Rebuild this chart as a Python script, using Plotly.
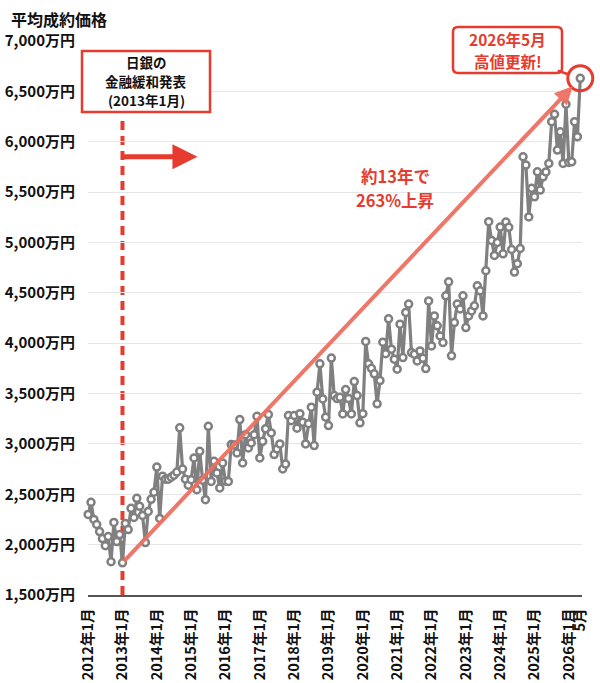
import plotly.graph_objects as go

# ---- data (monthly average contract price, 万円) ----
p2012 = [2300, 2420, 2250, 2200, 2130, 2060, 1990, 2080, 1830, 2220, 2030, 2100]
p2013 = [1820, 2210, 2150, 2360, 2270, 2460, 2380, 2290, 2020, 2330, 2450, 2520]
p2014 = [2770, 2260, 2680, 2650, 2650, 2670, 2690, 2720, 3160, 2750, 2650, 2590]
p2015 = [2645, 2860, 2545, 2926, 2640, 2446, 3175, 2628, 2827, 2712, 2563, 2811]
p2016 = [2630, 2628, 2993, 2990, 2910, 3242, 2811, 3092, 2960, 3010, 3090, 3274]
p2017 = [2861, 3026, 3150, 3291, 3109, 2894, 2950, 3000, 2751, 2800, 3282, 3230]
p2018 = [3282, 3156, 3300, 3216, 3000, 3200, 3365, 2983, 3514, 3795, 3447, 3265]
p2019 = [3182, 3852, 3480, 3450, 3464, 3298, 3540, 3450, 3298, 3619, 3480, 3209]
p2020 = [3300, 4017, 3795, 3750, 3696, 3398, 3629, 4010, 3895, 4242, 3940, 3841]
p2021 = [3742, 4189, 3857, 4305, 4388, 3907, 3890, 3824, 3923, 3850, 3748, 4420]
p2022 = [3973, 4271, 4172, 4072, 4006, 4470, 4609, 3874, 4205, 4388, 4340, 4470]
p2023 = [4155, 4270, 4320, 4371, 4570, 4520, 4271, 4719, 5206, 5020, 4871, 5000]
p2024 = [5153, 4887, 5203, 5150, 4930, 4706, 4789, 4940, 5851, 5768, 5253, 5537]
p2025 = [5453, 5702, 5520, 5652, 5700, 5785, 6199, 6272, 5917, 6099, 5785, 6372]
p2026 = [5795, 5800, 6199, 6050, 6630]

years = list(range(2012, 2027))
yearly = [p2012, p2013, p2014, p2015, p2016, p2017, p2018, p2019, p2020,
          p2021, p2022, p2023, p2024, p2025, p2026]

months = []
prices = []
for yr, vals in zip(years, yearly):
    for m, v in enumerate(vals, start=1):
        months.append(f"{yr}年{m}月")
        prices.append(v)

x_tickvals = [f"{y}年1月" for y in years] + ["2026年5月"]
x_ticktext = [f"{y}年1月" for y in years] + ["5月"]

y_tickvals = [1500, 2000, 2500, 3000, 3500, 4000, 4500, 5000, 5500, 6000, 6500, 7000]
y_ticktext = [f"{v:,}万円" for v in y_tickvals]

event_month = "2013年1月"
ev_idx = months.index(event_month)
last_idx = len(months) - 1

RED = "#e63b2e"
SALMON = "rgba(238,112,98,0.95)"
GRAY = "#808080"
FONT = "Noto Sans CJK JP"

L, R, T, B = 88, 18, 41, 88
W, H = 600, 683
pw, ph = W - L - R, H - T - B


def px_x(p):
    return (p - L) / pw


def px_y(p):
    return (H - B - p) / ph


def rounded_rect(x0, y0, x1, y1, r):
    """path in paper coords for a rounded rectangle given pixel box."""
    def P(x, y):
        return f"{px_x(x):.5f},{px_y(y):.5f}"
    return (f"M {P(x0 + r, y0)} L {P(x1 - r, y0)} Q {P(x1, y0)} {P(x1, y0 + r)} "
            f"L {P(x1, y1 - r)} Q {P(x1, y1)} {P(x1 - r, y1)} "
            f"L {P(x0 + r, y1)} Q {P(x0, y1)} {P(x0, y1 - r)} "
            f"L {P(x0, y0 + r)} Q {P(x0, y0)} {P(x0 + r, y0)} Z")


fig = go.Figure()
fig.add_trace(go.Scatter(
    x=months, y=prices, mode="lines+markers",
    line=dict(color=GRAY, width=3.2),
    marker=dict(symbol="circle", size=7, color="white",
                line=dict(color=GRAY, width=2.5)),
    cliponaxis=False, hoverinfo="skip",
))
# highlight ring on latest point
fig.add_trace(go.Scatter(
    x=[months[last_idx]], y=[prices[last_idx]], mode="markers",
    marker=dict(symbol="circle-open", size=25, color=RED, line=dict(color=RED, width=3)),
    cliponaxis=False, hoverinfo="skip",
))

fig.update_layout(
    width=W, height=H,
    margin=dict(l=L, r=R, t=T, b=B, autoexpand=False),
    plot_bgcolor="white", paper_bgcolor="white",
    showlegend=False,
    font=dict(family=FONT, color="#111"),
    title=dict(text="<b>平均成約価格</b>", x=11 / W, xanchor="left",
               y=1 - 20 / H, yanchor="middle", automargin=False,
               font=dict(size=16, family=FONT, color="#111")),
    xaxis=dict(type="category", range=[-0.05, last_idx + 0.6],
               tickvals=x_tickvals, ticktext=[f"<b>{t}</b>" for t in x_ticktext],
               tickangle=-90, automargin=False,
               tickfont=dict(size=14.5, family=FONT, color="#111"),
               showgrid=False, showline=True, linecolor="#555", linewidth=1.5,
               ticks="", ticklabelstandoff=6, zeroline=False),
    yaxis=dict(range=[1500, 7000], tickvals=y_tickvals, automargin=False,
               ticktext=[f"<b>{t}</b>" for t in y_ticktext],
               tickfont=dict(size=15, family=FONT, color="#111"),
               showgrid=True, gridcolor="#e6e6e6", gridwidth=1,
               zeroline=False, showline=False, ticks="", ticklabelstandoff=12),
)

# dashed vertical line at BOJ announcement
fig.add_shape(type="line", xref="x", yref="paper",
              x0=ev_idx, x1=ev_idx, y0=0, y1=px_y(116),
              line=dict(color=RED, width=4, dash="9px,6px"), layer="below")

# announcement box
fig.add_shape(type="rect", xref="paper", yref="paper",
              x0=px_x(82), x1=px_x(210), y0=px_y(112), y1=px_y(51),
              line=dict(color=RED, width=2.5), fillcolor="white")
for txt, yy in [("日銀の", 62), ("金融緩和発表", 81), ("(2013年1月)", 100)]:
    fig.add_annotation(text=f"<b>{txt}</b>", xref="paper", yref="paper",
                       x=px_x(146), y=px_y(yy), xanchor="center", yanchor="middle",
                       showarrow=False, borderpad=0,
                       font=dict(size=13.5, family=FONT, color="#111"))

# horizontal red arrow
fig.add_annotation(text="", xref="x", yref="y", axref="x", ayref="y",
                   x=38.2, y=5850, ax=ev_idx, ay=5850,
                   showarrow=True, arrowhead=2, arrowsize=1.0, arrowwidth=5,
                   arrowcolor=RED)

# diagonal growth arrow
fig.add_annotation(text="", xref="x", yref="y", axref="x", ayref="y",
                   x=last_idx, y=prices[last_idx], ax=ev_idx, ay=prices[ev_idx],
                   showarrow=True, arrowhead=2, arrowsize=0.9, arrowwidth=4,
                   arrowcolor=SALMON, standoff=11)

for txt, yy in [("約13年で", 176), ("263%上昇", 200)]:
    fig.add_annotation(text=f"<b>{txt}</b>", xref="paper", yref="paper",
                       x=px_x(395), y=px_y(yy), xanchor="center", yanchor="middle",
                       showarrow=False, borderpad=0,
                       font=dict(size=16.5, family=FONT, color=RED))

# callout tail (from box corner to latest point)
fig.add_annotation(text="", xref="x", yref="y",
                   x=last_idx, y=prices[last_idx], ax=-24, ay=-8,
                   showarrow=True, arrowhead=0, arrowwidth=2.5, arrowcolor=RED,
                   standoff=12)
# callout box
fig.add_shape(type="path", xref="paper", yref="paper",
              path=rounded_rect(453, 27, 562, 73, 5),
              line=dict(color=RED, width=2.5), fillcolor="white")
for txt, yy in [("2026年5月", 39), ("高値更新!", 61.5)]:
    fig.add_annotation(text=f"<b>{txt}</b>", xref="paper", yref="paper",
                       x=px_x(507.5), y=px_y(yy), xanchor="center", yanchor="middle",
                       showarrow=False, borderpad=0,
                       font=dict(size=15.5, family=FONT, color=RED))

fig.write_html("out.html")
